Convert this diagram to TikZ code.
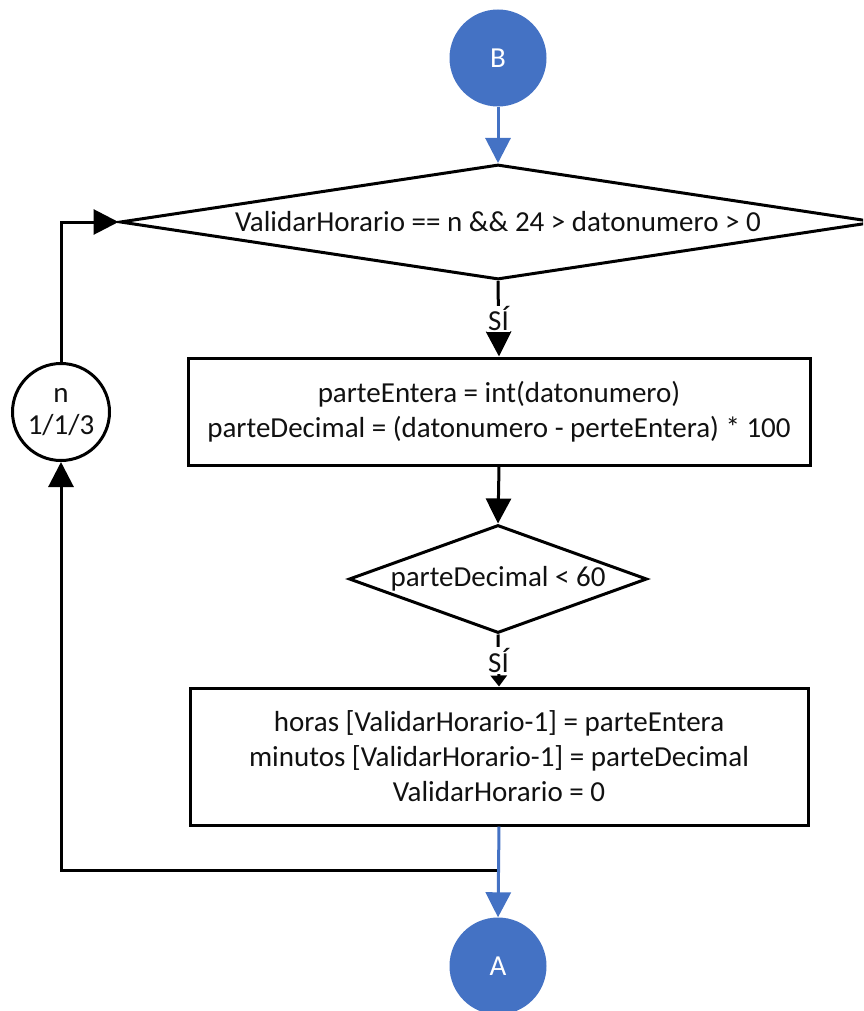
\documentclass[tikz,border=0pt]{standalone}
\usepackage{fontspec}
\setmainfont{Carlito}
\usetikzlibrary{shapes.geometric,arrows.meta}
\definecolor{connblue}{HTML}{4472C4}
\definecolor{ink}{HTML}{111111}
\begin{document}
\begin{tikzpicture}[x=1pt,y=-1pt,
  every node/.style={font=\fontsize{29}{35}\selectfont, text=ink},
  procbox/.style={draw=black, line width=3pt, fill=white, rectangle, inner sep=0pt, align=center},
  decision/.style={draw=black, line width=3pt, fill=white, diamond, inner sep=0pt, align=center},
  connector/.style={circle, fill=connblue, minimum size=97pt, inner sep=0pt, text=white},
  counter/.style={circle, draw=black, line width=3pt, fill=white, minimum size=97pt, inner sep=0pt, align=center},
  flow/.style={draw=black, line width=3pt, -{Triangle[width=25pt,length=25pt]}},
  thinflow/.style={draw=black, line width=3pt, -{Triangle[width=16pt,length=11pt]}},
  blueflow/.style={draw=connblue, line width=3pt, -{Triangle[width=25pt,length=25pt]}},
  yeslabel/.style={fill=white, inner sep=1pt}
]
\useasboundingbox (0,0) rectangle (863,1011);
\clip (0,0) rectangle (863,1011);

% connectors
\node[connector] (B) at (498,58) {B};
\node[connector] (A) at (498,966) {A};

% first decision
\node[decision, minimum width=756pt, minimum height=115pt, shape aspect=6.57] (d1) at (498,222)
  {ValidarHorario == n \&\& 24 > datonumero > 0};

% first process
\node[procbox, minimum width=622pt, minimum height=107pt] (r1) at (499,411.5)
  {parteEntera = int(datonumero)\\parteDecimal = (datonumero - perteEntera) * 100};

% second decision
\node[decision, minimum width=298pt, minimum height=108pt, shape aspect=2.76] (d2) at (498,579)
  {parteDecimal < 60};

% second process
\node[procbox, minimum width=618pt, minimum height=137pt] (r2) at (499,756.5)
  {horas [ValidarHorario-1] = parteEntera\\minutos [ValidarHorario-1] = parteDecimal\\ValidarHorario = 0};

% loop counter
\node[counter] (n) at (61,412) {n\\[-3pt]1/1/3};

% loop back
\coordinate (j) at (498,870);
\draw[flow] (j) -| (n.south);
\draw[flow] (n.north) |- (d1.west);

% main flow
\draw[blueflow] (B) -- (d1.north);
\draw[flow] (d1.south) -- node[yeslabel] {SÍ} (r1.north);
\draw[flow] (r1.south) -- (d2.north);
\draw[thinflow] (d2.south) -- node[yeslabel] {SÍ} (r2.north);
\draw[blueflow] (r2.south) -- (A.north);
\end{tikzpicture}
\end{document}
